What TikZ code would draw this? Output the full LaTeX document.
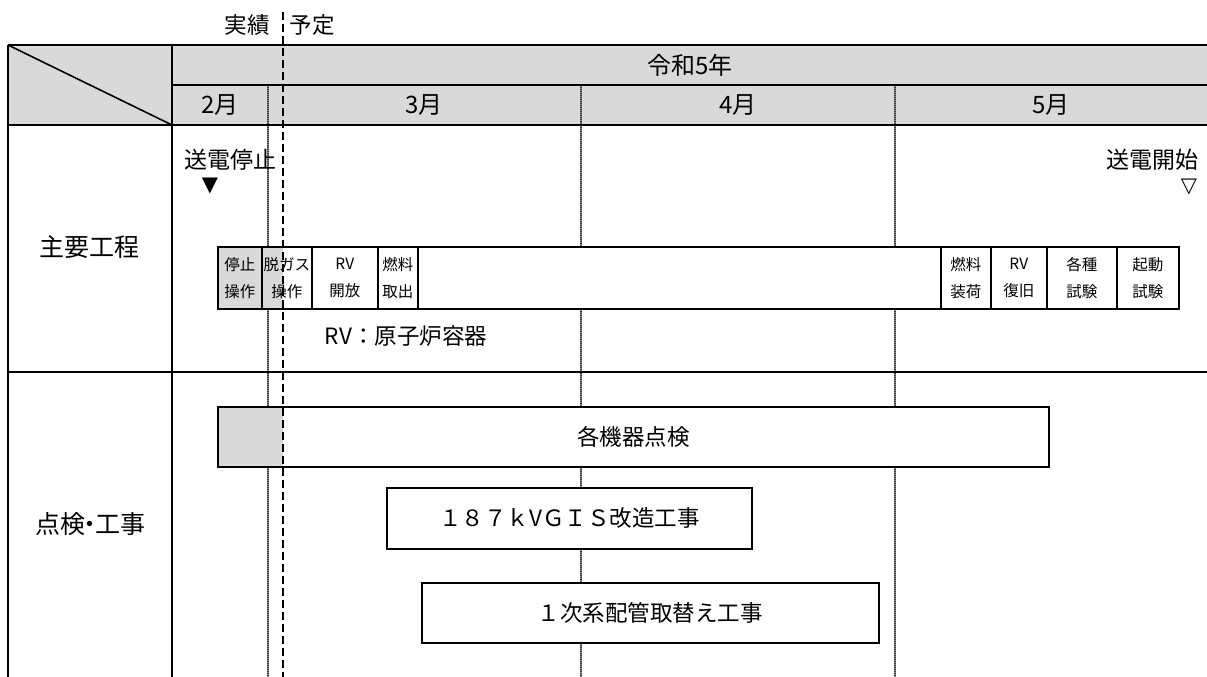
\documentclass[tikz,border=0pt]{standalone}
\usepackage{fontspec}
\setmainfont{Noto Sans CJK JP}
\newfontfamily\symfont{DejaVu Sans}
\definecolor{hdrgray}{HTML}{D9D9D9}
\begin{document}
\begin{tikzpicture}[x=1pt,y=-1pt,
  tbl/.style={line width=2pt, black},
  mondiv/.style={line width=2.4pt, black!50},
  mondot/.style={line width=1.1pt, black!75, dash pattern=on 1pt off 1pt},
  pbox/.style={draw, line width=1.6pt, fill=white, minimum height=62pt, inner sep=0pt, anchor=north west, align=center, font=\fontsize{15.5}{27}\selectfont},
  bar/.style={draw, line width=1.6pt, fill=white, inner sep=0pt, anchor=north west, font=\fontsize{22.5}{26}\selectfont},
  lbl/.style={inner sep=0pt, font=\fontsize{22.5}{26}\selectfont},
  hdr/.style={inner sep=0pt, font=\fontsize{24}{28}\selectfont},
  big/.style={inner sep=0pt, font=\fontsize{25}{28}\selectfont},
  tri/.style={inner sep=0pt, font=\symfont\fontsize{21}{21}\selectfont},
  grayleft/.style={path picture={\fill[hdrgray] (path picture bounding box.north west) rectangle ([xshift=#1]path picture bounding box.south west);}}
]
\useasboundingbox (0,0) rectangle (1207,677);
% header fill
\fill[hdrgray] (8,45) rectangle (1207,125);
% month dividers
\foreach \mx/\nm in {268/a,581/b,895/c}{
  \coordinate (mt\nm) at (\mx,85);
  \coordinate (mb\nm) at (\mx,677);
  \draw[mondiv] (mt\nm) -- (mb\nm);
  \draw[mondot] (mt\nm) -- (mb\nm);
}
% table lines
\coordinate (tl) at (8,45);
\coordinate (tr) at (1207,45);
\coordinate (cl) at (172,45);
\draw[tbl] (tl) -- (tr);
\draw[tbl] (172,85) -- (1207,85);
\draw[tbl] (8,125) -- (1207,125);
\draw[tbl] (8,372) -- (1207,372);
\draw[tbl] (tl) -- (8,677);
\draw[tbl] (cl) -- (172,677);
\draw[line width=1.6pt] (tl) -- (172,125);
% header texts
\node[hdr] (year) at (690,65) {令和5年};
\node[hdr] (feb) at (220,105) {2月};
\node[hdr] (mar) at (424,105) {3月};
\node[hdr] (apr) at (738,105) {4月};
\node[hdr] (may) at (1051,105) {5月};
\node[lbl] (jisseki) at (247,25) {実績};
\node[lbl] (yotei) at (312,25) {予定};
% row labels
\node[big] (main) at (89,247) {主要工程};
\node[big] (insp) at (90,524) {点検\kern-0.3em・\kern-0.3em工事};
% milestones
\node[lbl, font=\fontsize{23}{26}\selectfont] (stop) at (230,160) {送電停止};
\node[tri] (stoptri) at (210,186) {▼};
\node[lbl, font=\fontsize{23}{26}\selectfont] (start) at (1152,160) {送電開始};
\node[tri, font=\symfont\fontsize{21}{21}\selectfont] (starttri) at (1189,187) {▽};
% process bar
\node[pbox, minimum width=44pt, fill=hdrgray] (p1) at (217,246) {停止\\操作};
\node[pbox, minimum width=50pt, grayleft=21pt] (p2) at (261,246) {脱ガス\\操作};
\node[pbox, minimum width=66pt] (p3) at (311,246) {RV\\開放};
\node[pbox, minimum width=40pt] (p4) at (377,246) {燃料\\取出};
\node[pbox, minimum width=523pt] (p5) at (417,246) {};
\node[pbox, minimum width=50pt] (p6) at (940,246) {燃料\\装荷};
\node[pbox, minimum width=56pt] (p7) at (990,246) {RV\\復旧};
\node[pbox, minimum width=70pt] (p8) at (1046,246) {各種\\試験};
\node[pbox, minimum width=62pt] (p9) at (1116,246) {起動\\試験};
\node[lbl] (rvnote) at (406,336) {RV：原子炉容器};
% inspection bars
\node[bar, minimum width=831pt, minimum height=60pt, grayleft=65pt] (b1) at (217,406) {各機器点検};
\node[bar, minimum width=365pt, minimum height=61pt] (b2) at (386,487) {１８７ｋVＧＩＳ改造工事};
\node[bar, minimum width=457pt, minimum height=60pt] (b3) at (421,582) {１次系配管取替え工事};
% actual / planned boundary
\coordinate (dtop) at (283,12);
\coordinate (dbot) at (283,677);
\draw[line width=1.6pt, dash pattern=on 8pt off 4pt] (dtop) -- (dbot);
\end{tikzpicture}
\end{document}
